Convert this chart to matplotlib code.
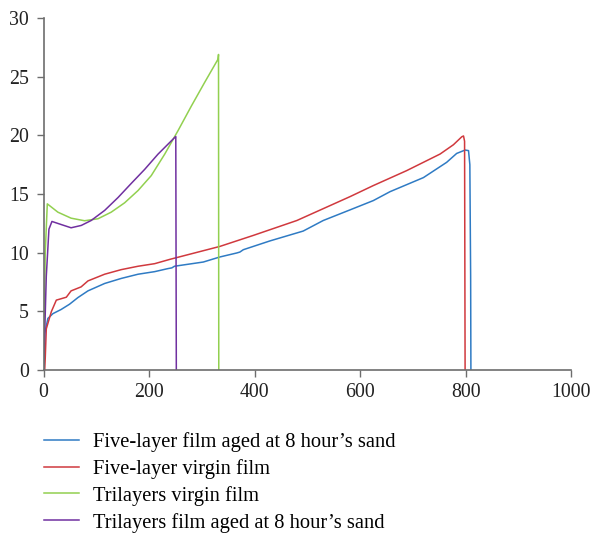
import matplotlib
matplotlib.use("Agg")
import matplotlib.pyplot as plt

# --- DATA ---
five_aged_x = [1, 2, 8, 17.6, 33, 49, 65, 84, 115.6, 147, 179, 210.5, 235.7, 243, 248, 302.7, 334, 366,
               372, 378.5, 429, 492, 530, 581, 625, 656.7, 720, 764, 783, 799, 805.5, 808, 809.5, 810]
five_aged_y = [0.5, 3.1, 4.39, 4.8, 5.15, 5.6, 6.17, 6.74, 7.37, 7.8, 8.16, 8.38, 8.64, 8.7, 8.84, 9.2, 9.63, 9.97,
               10.05, 10.25, 11.0, 11.84, 12.74, 13.65, 14.44, 15.2, 16.4, 17.7, 18.46, 18.75, 18.7, 17.5, 8.0, 0]

five_virgin_x = [2, 3, 5, 14.5, 24, 43, 52, 71, 84, 115.6, 147, 179, 210.5, 239.5, 334, 397.5, 480, 581,
                 625, 688, 751.6, 776.8, 792.7, 796, 798, 799]
five_virgin_y = [0, 1.0, 3.5, 4.96, 5.95, 6.2, 6.74, 7.08, 7.59, 8.16, 8.55, 8.84, 9.06, 9.43, 10.53, 11.47,
                 12.74, 14.78, 15.72, 16.99, 18.41, 19.2, 19.88, 19.95, 19.5, 0]

tri_virgin_x = [0, 3, 6.9, 27, 52, 77.5, 103, 128, 153.5, 179, 204, 229.5, 254.7, 280, 305, 330.6, 331.5, 332]
tri_virgin_y = [0, 10, 14.16, 13.45, 12.94, 12.72, 12.89, 13.45, 14.25, 15.3, 16.57, 18.4, 20.4, 22.5, 24.5,
                26.5, 26.9, 0]

tri_aged_x = [0, 5, 10, 15.7, 33, 52, 71.3, 90, 115.6, 141, 166, 191.5, 216.8, 248, 250.5, 251.5]
tri_aged_y = [0, 8, 12, 12.66, 12.4, 12.12, 12.32, 12.74, 13.6, 14.7, 15.9, 17.1, 18.4, 19.8, 19.9, 0]

labels = ["Five-layer film aged at 8 hour\u2019s sand",
          "Five-layer virgin film",
          "Trilayers virgin film",
          "Trilayers film aged at 8 hour\u2019s sand"]
colors = ["#2f7bc4", "#d0393e", "#92d050", "#7030a0"]

plt.rcParams['font.family'] = ['Liberation Serif', 'DejaVu Serif']

fig = plt.figure(figsize=(5.9, 5.33), dpi=100)
ax = fig.add_axes([0.074, 0.306, 0.894, 0.66])

series = [(five_aged_x, five_aged_y), (five_virgin_x, five_virgin_y),
          (tri_virgin_x, tri_virgin_y), (tri_aged_x, tri_aged_y)]
for (xs, ys), c, lab in zip(series, colors, labels):
    ax.plot(xs, ys, color=c, lw=1.1, label=lab)

ax.set_xlim(0, 1000)
ax.set_ylim(0, 30)
ax.set_xticks(range(0, 1001, 200))
ax.set_yticks(range(0, 31, 5))
for s in ['top', 'right']:
    ax.spines[s].set_visible(False)
for s in ['left', 'bottom']:
    ax.spines[s].set_color('#6d6d6d')
    ax.spines[s].set_linewidth(1.2)
ax.tick_params(colors='#6d6d6d', length=5, width=1.0, labelsize=14.3, labelcolor='#222222')
ax.tick_params(axis='y', pad=5.5)
ax.tick_params(axis='x', pad=4.5)

fig.legend(loc='upper left', bbox_to_anchor=(0.06, 0.205), frameon=False, fontsize=14.8,
           handlelength=1.7, handletextpad=0.68, labelspacing=0.34, borderaxespad=0)

fig.savefig("out.png", dpi=100)
